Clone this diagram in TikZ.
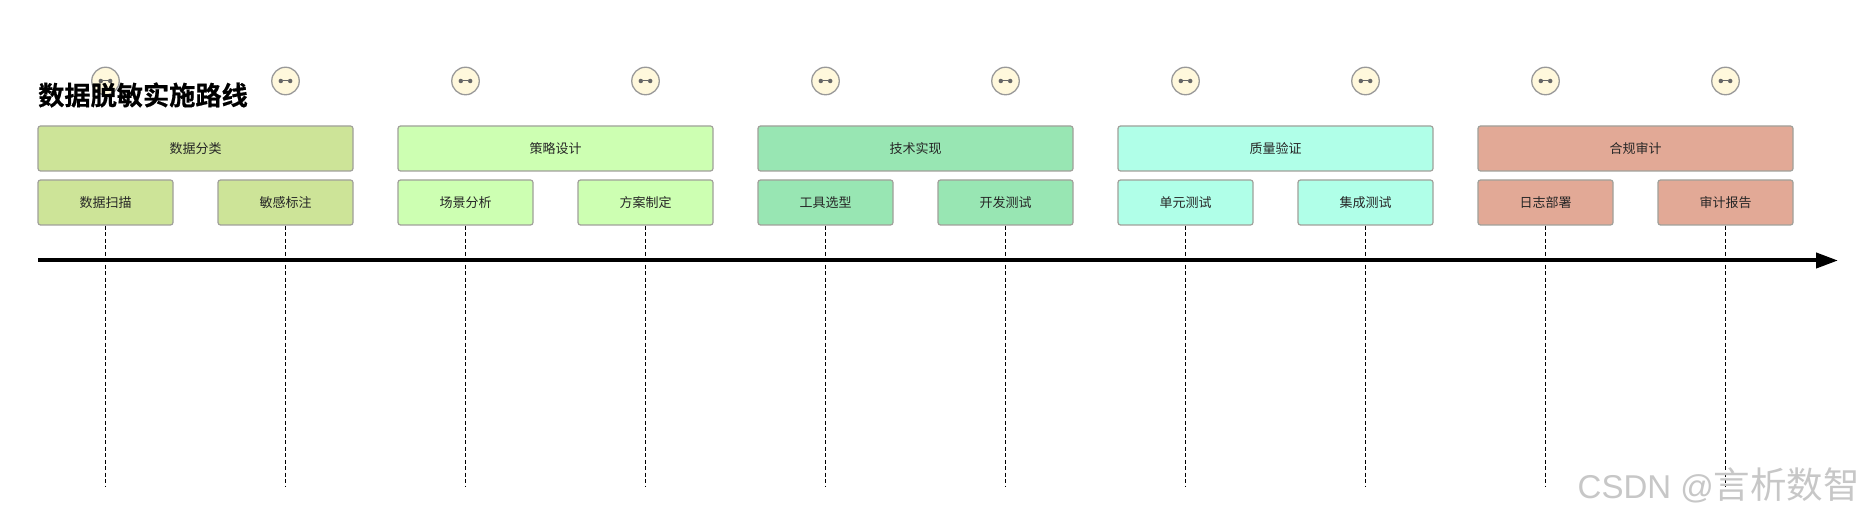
\documentclass[tikz,border=0pt]{standalone}
\usepackage{fontspec}
\setmainfont{Liberation Sans}
\newfontfamily\cjk{Noto Sans CJK SC}
\newfontfamily\cjktitle{Noto Sans CJK SC Bold}[FakeBold=0.6]
\usetikzlibrary{arrows.meta}
\definecolor{ca}{HTML}{CDE498}
\definecolor{cb}{HTML}{CDFFB2}
\definecolor{cc}{HTML}{98E6B3}
\definecolor{cd}{HTML}{B0FFE8}
\definecolor{ce}{HTML}{E2A996}
\definecolor{edge}{HTML}{A0A09A}
\definecolor{cream}{HTML}{FFF8DC}
\tikzset{
 x=1pt,y=-1pt,
 boxbase/.style={draw=edge,line width=1.2pt,rounded corners=2.5pt,inner sep=0pt,font=\cjk\fontsize{13}{14}\selectfont,text=black!85},
 topbox/.style={boxbase,minimum width=315pt,minimum height=45pt},
 subbox/.style={boxbase,minimum width=135pt,minimum height=45pt},
 actor/.style={circle,draw=black!40,line width=1.3pt,fill=cream,minimum size=27.5pt,inner sep=0pt},
 life/.style={line width=0.9pt,dash pattern=on 4pt off 2.5pt},
 axis/.style={line width=4pt,-{Triangle[length=22pt,width=15pt]}},
 link/.style={draw=black!60,line width=1pt},
 dotmark/.style={circle,fill=black!60,inner sep=0pt,minimum size=4.5pt},
}
\begin{document}
\begin{tikzpicture}
\useasboundingbox (0,0) rectangle (1864,518);
\fill[white] (0,0) rectangle (1864,518);
\coordinate (axisL) at (38,260.5);
\coordinate (axisR) at (1838,260.5);
\draw[axis] (axisL) -- (axisR);
\foreach \i/\col/\t/\sa/\sb [count=\n from 0] in {
 1/ca/数据分类/数据扫描/敏感标注,
 2/cb/策略设计/场景分析/方案制定,
 3/cc/技术实现/工具选型/开发测试,
 4/cd/质量验证/单元测试/集成测试,
 5/ce/合规审计/日志部署/审计报告}{
  \pgfmathsetmacro{\xo}{38+360*\n}
  \node[topbox,fill=\col] (g\i) at (\xo+157.5,148.5) {\t};
  \node[subbox,fill=\col] (s\i a) at (\xo+67.5,202.5) {\sa};
  \node[subbox,fill=\col] (s\i b) at (\xo+247.5,202.5) {\sb};
  \foreach \k in {a,b}{
    \coordinate (end\i\k) at (s\i\k.south |- 0,486);
    \draw[life] (s\i\k.south) -- (end\i\k);
    \node[actor] (c\i\k) at (s\i\k.center |- 0,81) {};
    \node[dotmark] (dl\i\k) at ([xshift=-4.7pt]c\i\k.center) {};
    \node[dotmark] (dr\i\k) at ([xshift=4.7pt]c\i\k.center) {};
    \draw[link] (dl\i\k) -- (dr\i\k);
  }
}
\node[anchor=west,inner sep=0pt,font=\cjktitle\fontsize{26.2}{30}\selectfont,text=black] (title) at (38,95) {数据脱敏实施路线};
\node[anchor=west,inner sep=0pt,font=\fontsize{33}{36}\selectfont,text=black!22] (mark) at (1577.5,485) {CSDN @{\cjk\fontsize{36.5}{36}\selectfont 言析数智}};
\end{tikzpicture}
\end{document}
